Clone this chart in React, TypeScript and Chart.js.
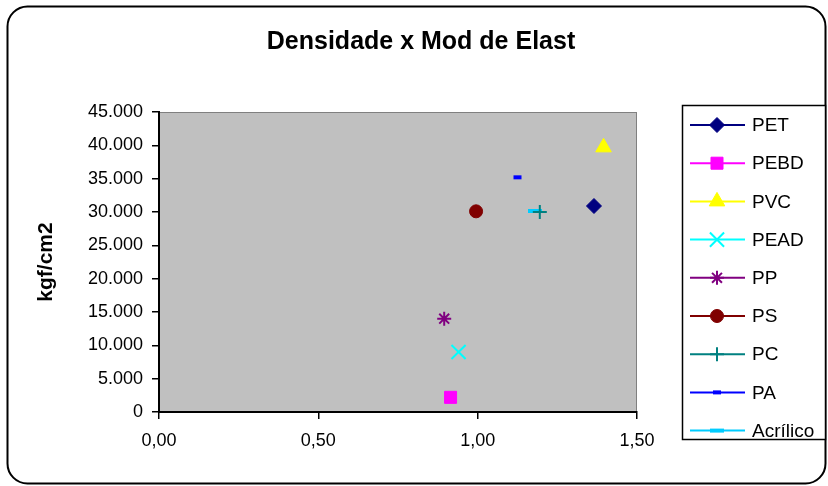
import React, { useEffect, useRef } from 'react';
import { Chart, registerables } from 'chart.js';
import { drawPoint } from 'chart.js/helpers';

Chart.register(...registerables);

// ---- data ----
const seriesNames = ['PET', 'PEBD', 'PVC', 'PEAD', 'PP', 'PS', 'PC', 'PA', 'Acrílico'];
const densidade = [1.365, 0.915, 1.395, 0.94, 0.895, 0.995, 1.195, 1.125, 1.18];
const modElast = [30900, 2200, 39700, 9000, 14000, 30100, 30000, 35200, 30150];
const xTickValues = [0, 0.5, 1.0, 1.5];
const yTickValues = [0, 5000, 10000, 15000, 20000, 25000, 30000, 35000, 40000, 45000];
const chartTitle = 'Densidade x Mod de Elast';
const yAxisTitle = 'kgf/cm2';

// ---- styles ----
const colors = ['#000080', '#FF00FF', '#FFFF00', '#00FFFF', '#800080', '#800000', '#008080', '#0000FF', '#00CCFF'];
const pointStyles = ['rectRot', 'rect', 'triangle', 'crossRot', 'star', 'circle', 'cross', 'line', 'line'];
const pointRadii = [7.5, 8.5, 9, 10, 7, 6.5, 7, 4, 7];
const pointBorders = [1, 1, 1, 2, 2, 1, 2, 4, 4];

const FONT = 'Arial, "Liberation Sans", sans-serif';

const fmtY = (v: number) => {
  const s = Math.round(v).toString();
  return s.replace(/\B(?=(\d{3})+(?!\d))/g, '.');
};
const fmtX = (v: number) => v.toFixed(2).replace('.', ',');

export default function App() {
  const ref = useRef<HTMLCanvasElement>(null);

  useEffect(() => {
    const canvas = ref.current;
    if (!canvas) return;

    const datasets = seriesNames.map((name, i) => ({
      label: name,
      data: [{ x: densidade[i], y: modElast[i] }],
      pointStyle: pointStyles[i] as any,
      pointRadius: pointRadii[i],
      pointBorderWidth: pointBorders[i],
      backgroundColor: colors[i],
      borderColor: colors[i],
      showLine: false,
    }));

    const frame = {
      id: 'frame',
      beforeDraw(chart: any) {
        const ctx = chart.ctx as CanvasRenderingContext2D;
        const { left, top, right, bottom } = chart.chartArea;
        ctx.save();
        ctx.fillStyle = '#ffffff';
        ctx.fillRect(0, 0, chart.width, chart.height);
        // outer rounded border
        ctx.beginPath();
        (ctx as any).roundRect(7.5, 6.5, 818, 477, 20);
        ctx.lineWidth = 2;
        ctx.strokeStyle = '#000';
        ctx.stroke();
        // plot area
        ctx.fillStyle = '#C0C0C0';
        ctx.fillRect(left, top, right - left, bottom - top);
        ctx.strokeStyle = '#808080';
        ctx.lineWidth = 1;
        ctx.strokeRect(left + 0.5, top + 0.5, right - left - 1, bottom - top - 1);
        ctx.restore();
      },
      afterDraw(chart: any) {
        const ctx = chart.ctx as CanvasRenderingContext2D;
        ctx.save();
        // title
        ctx.fillStyle = '#000';
        ctx.font = `bold 25px ${FONT}`;
        ctx.textAlign = 'center';
        ctx.textBaseline = 'middle';
        ctx.fillText(chartTitle, 421, 42);
        // legend box
        const lx = 682.5, ly = 105.5, lw = 143, lh = 334;
        ctx.fillStyle = '#fff';
        ctx.fillRect(lx, ly, lw, lh);
        ctx.strokeStyle = '#000';
        ctx.lineWidth = 1.5;
        ctx.strokeRect(lx, ly, lw, lh);
        const ds = chart.data.datasets;
        ds.forEach((d: any, i: number) => {
          const cy = 125 + i * 38.2;
          ctx.strokeStyle = colors[i];
          ctx.fillStyle = colors[i];
          ctx.lineWidth = 2;
          ctx.beginPath();
          ctx.moveTo(690, cy);
          ctx.lineTo(745, cy);
          ctx.stroke();
          ctx.lineWidth = pointBorders[i];
          drawPoint(ctx, { pointStyle: pointStyles[i] as any, radius: pointRadii[i], borderWidth: pointBorders[i], rotation: 0 } as any, 717, cy);
          ctx.fillStyle = '#000';
          ctx.font = `19px ${FONT}`;
          ctx.textAlign = 'left';
          ctx.textBaseline = 'middle';
          ctx.fillText(d.label, 752, cy + 1);
        });
        ctx.restore();
      },
    };

    const chart = new Chart(canvas, {
      type: 'scatter',
      data: { datasets },
      plugins: [frame],
      options: {
        responsive: false,
        animation: false,
        devicePixelRatio: 1,
        layout: { padding: { left: 14, right: 191, top: 112, bottom: 0 } },
        plugins: {
          legend: { display: false },
          title: { display: false },
          tooltip: { enabled: false },
        },
        scales: {
          x: {
            type: 'linear',
            min: xTickValues[0],
            max: xTickValues[xTickValues.length - 1],
            afterBuildTicks: (s: any) => { s.ticks = xTickValues.map((v) => ({ value: v })); },
            afterFit: (s: any) => { s.height = 74; },
            ticks: {
              color: '#000',
              font: { family: FONT, size: 18 },
              padding: 11,
              maxRotation: 0,
              callback: (v: any) => fmtX(Number(v)),
            },
            grid: { drawOnChartArea: false, drawTicks: true, tickLength: 7, color: '#000', lineWidth: 1.5 },
            border: { display: true, color: '#000', width: 2 },
          },
          y: {
            type: 'linear',
            min: yTickValues[0],
            max: yTickValues[yTickValues.length - 1],
            afterBuildTicks: (s: any) => { s.ticks = yTickValues.map((v) => ({ value: v })); },
            afterFit: (s: any) => { s.width = 145; },
            ticks: {
              color: '#000',
              font: { family: FONT, size: 18 },
              padding: 9,
              callback: (v: any) => fmtY(Number(v)),
            },
            title: {
              display: true,
              text: yAxisTitle,
              color: '#000',
              font: { family: FONT, size: 21, weight: 'bold' },
              padding: { top: 20, bottom: 0 },
            },
            grid: { drawOnChartArea: false, drawTicks: true, tickLength: 7, color: '#000', lineWidth: 1.5 },
            border: { display: true, color: '#000', width: 2 },
          },
        },
      } as any,
    });
    return () => chart.destroy();
  }, []);

  return (
    <div style={{ position: 'absolute', left: 0, top: 0, width: 828, height: 486, background: '#fff' }}>
      <canvas ref={ref} width={828} height={486} style={{ display: 'block', width: 828, height: 486 }} />
    </div>
  );
}
